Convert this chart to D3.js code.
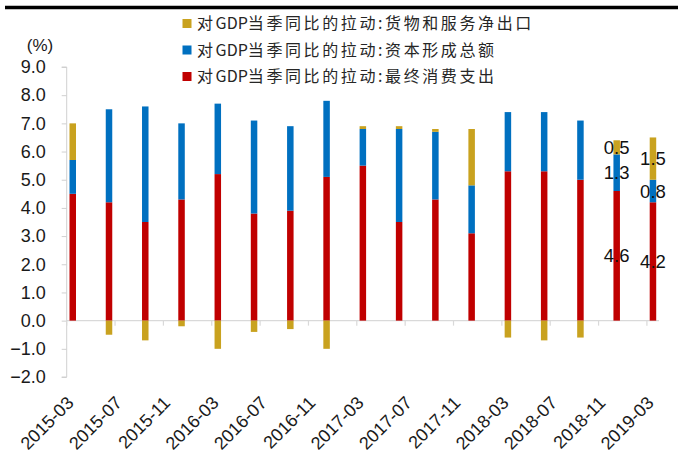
<!DOCTYPE html>
<html>
<head>
<meta charset="utf-8">
<script src="https://cdn.jsdelivr.net/npm/d3@7"></script>
<style>
  html, body { margin: 0; padding: 0; background: #fff; }
  svg { display: block; }
  .num { font-family: "Liberation Sans", Arial, sans-serif; fill: #1a1a1a; }
  .cjk { font-family: "Noto Sans CJK SC", sans-serif; fill: #262626; }
</style>
</head>
<body>
<svg id="chart" width="678" height="455"></svg>
<script>
// Quarterly contribution to year-on-year GDP growth (percentage points)
const quarters = ["2015-03","2015-06","2015-09","2015-12","2016-03","2016-06","2016-09","2016-12",
                  "2017-03","2017-06","2017-09","2017-12","2018-03","2018-06","2018-09","2018-12","2019-03"];
const consumption = [4.5, 4.2, 3.5, 4.3, 5.2, 3.8, 3.9, 5.1, 5.5, 3.5, 4.3, 3.1, 5.3, 5.3, 5.0, 4.6, 4.2];
const capital     = [1.2, 3.3, 4.1, 2.7, 2.5, 3.3, 3.0, 2.7, 1.3, 3.3, 2.4, 1.7, 2.1, 2.1, 2.1, 1.3, 0.8];
const netExports  = [1.3,-0.5,-0.7,-0.2,-1.0,-0.4,-0.3,-1.0, 0.1, 0.1, 0.1, 2.0,-0.6,-0.7,-0.6, 0.5, 1.5];

const seriesNames = [
  "对GDP当季同比的拉动:最终消费支出",
  "对GDP当季同比的拉动:资本形成总额",
  "对GDP当季同比的拉动:货物和服务净出口"
];
const seriesColors = ["#C00000", "#0070C0", "#C9A21F"];
const yTicks = [-2, -1, 0, 1, 2, 3, 4, 5, 6, 7, 8, 9];
const labeledQuarters = ["2018-12", "2019-03"];

const svg = d3.select("#chart");
const fmtMonth = d3.timeFormat("%Y-%m");
const parseMonth = d3.timeParse("%Y-%m");

// Monthly date axis: one slot per month, bars sit in quarter-end months
const months = d3.timeMonth.range(parseMonth(quarters[0]),
  d3.timeMonth.offset(parseMonth(quarters[quarters.length - 1]), 1)).map(fmtMonth);

const x = d3.scaleBand().domain(months).range([66.7, 659]).padding(0);
const y = d3.scaleLinear().domain([-2, 9]).range([377, 67]);

const rows = quarters.map((q, i) => ({ q, c: consumption[i], k: capital[i], n: netExports[i] }));
const keys = ["c", "k", "n"];
const stacked = d3.stack().keys(keys).offset(d3.stackOffsetDiverging)(rows);

// top rule
svg.append("line").attr("x1", 5).attr("x2", 678).attr("y1", 7.5).attr("y2", 7.5)
  .attr("stroke", "#000").attr("stroke-width", 3.6);

// y axis
const yAxis = d3.axisLeft(y).tickValues(yTicks).tickFormat(d3.format(".1f"))
  .tickSize(5).tickPadding(16);
const gy = svg.append("g").attr("transform", "translate(66.7,0)").call(yAxis);
gy.select(".domain").attr("stroke", "#d0d0d0").attr("d", `M-5,${y(9)}H0V${y(-2)}H-5`);
gy.selectAll(".tick line").attr("stroke", "#d0d0d0");
gy.selectAll(".tick text").attr("class", "num").style("font-size", "18px");

svg.append("text").attr("class", "num").attr("x", 40).attr("y", 51)
  .attr("text-anchor", "middle").style("font-size", "17px").text("(%)");

// zero line and month ticks
svg.append("line").attr("x1", 66.7).attr("x2", 659).attr("y1", y(0)).attr("y2", y(0))
  .attr("stroke", "#d9d9d9").attr("stroke-width", 1.2);
const tickMonths = months.filter((m, i) => i % 4 === 0);
svg.append("g").selectAll("line").data(tickMonths).join("line")
  .attr("x1", d => x(d)).attr("x2", d => x(d))
  .attr("y1", y(0)).attr("y2", y(0) + 5)
  .attr("stroke", "#d9d9d9").attr("stroke-width", 1.2);

svg.append("g").selectAll("text").data(tickMonths).join("text")
  .attr("class", "num")
  .attr("text-anchor", "end")
  .attr("transform", d => `translate(${x(d) + x.bandwidth() / 2 + 2},404) rotate(-45)`)
  .style("font-size", "18px")
  .text(d => d);

// stacked bars
const barW = 6.5;
svg.append("g").selectAll("g").data(stacked).join("g")
  .attr("fill", (d, i) => seriesColors[i])
  .selectAll("rect").data(d => d).join("rect")
  .attr("x", d => x(d.data.q) + x.bandwidth() / 2 - barW / 2)
  .attr("width", barW)
  .attr("y", d => y(Math.max(d[0], d[1])))
  .attr("height", d => Math.abs(y(d[0]) - y(d[1])));

// value labels on the latest quarters
const labelData = [];
stacked.forEach(s => s.forEach(d => {
  if (labeledQuarters.includes(d.data.q)) {
    labelData.push({ q: d.data.q, v: d.data[s.key], mid: (d[0] + d[1]) / 2 });
  }
}));
svg.append("g").selectAll("text").data(labelData).join("text")
  .attr("class", "num")
  .attr("text-anchor", "middle")
  .attr("x", d => x(d.q) + x.bandwidth() / 2)
  .attr("y", d => y(d.mid))
  .attr("dy", "0.36em")
  .style("font-size", "18.5px")
  .style("fill", "#111")
  .text(d => d3.format(".1f")(d.v));

// legend
const legendOrder = [2, 1, 0];
const lg = svg.append("g").selectAll("g").data(legendOrder).join("g")
  .attr("transform", (d, i) => `translate(182.5,${23.5 + i * 26.5})`);
lg.append("rect").attr("x", 0).attr("y", -4.5).attr("width", 9).attr("height", 9)
  .attr("fill", d => seriesColors[d]);
const lt = lg.append("text").attr("class", "cjk").attr("x", 14.5).attr("dy", "0.36em")
  .style("font-size", "16px");
// "GDP" is set tight, the Chinese characters are spaced out
lt.each(function (d) {
  const name = seriesNames[d];
  const parts = name.split(/(GDP)/).filter(s => s.length);
  const t = d3.select(this);
  parts.forEach(p => {
    t.append("tspan")
      .style("letter-spacing", p === "GDP" ? "0px" : "2.6px")
      .text(p);
  });
});
</script>
</body>
</html>
